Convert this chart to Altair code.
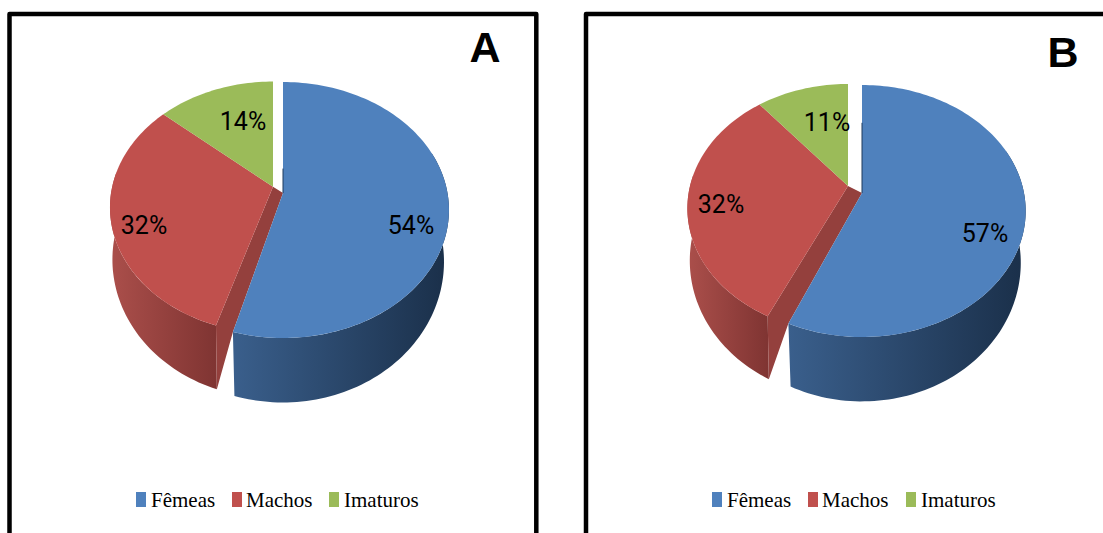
import math

import altair as alt
import pandas as pd

# Sex ratio shares per sample, in percent
categories = ["Fêmeas", "Machos", "Imaturos"]
shares_a = [54, 32, 14]
shares_b = [57, 32, 11]
panel_names = ["A", "B"]

TOP_COLORS = ["#4f81bd", "#c0504d", "#9bbb59"]
RADIAL_FACE = "#94403d"
EDGE_COLOR = "#1f3a5c"
BLUE_WALL = ("#3a5f8c", "#1a2f49")
RED_WALL = ("#ab4f4b", "#7f3432")

WIDTH, HEIGHT = 1103, 533
SERIF = "Liberation Serif"
LABEL_FONT = "Roboto"
BOLD = "Liberation Sans"

# Perspective disc settings for each panel: the first slice is pulled out to
# its own apex, the remaining slices share a second one.  "tw" nudges the
# projected angle to follow the camera tilt of the 3D view.
PANELS = [
    {
        "name": panel_names[0], "shares": shares_a,
        "front": dict(cx=283, cy=193, rx=164.5, ry=125.7, p=0.133, tw=1.0, kx=0.97),
        "rest": dict(cx=273, cy=186.7, rx=160.8, ry=122.5, p=0.165, tw=3.0, kx=0.985),
        "frame": (9.5, 536.3),
        "letter": (485, 49),
        "label_pos": [(411, 226), (144, 226), (243, 122)],
        "edge_reach": 0.22,
        "legend_box": [136, 232, 329],
        "legend_text": [151, 246, 344],
    },
    {
        "name": panel_names[1], "shares": shares_b,
        "front": dict(cx=862, cy=193, rx=162, ry=123.4, p=0.143, tw=-2.0, kx=0.97),
        "rest": dict(cx=848, cy=186, rx=158, ry=120.4, p=0.18, tw=0.0, kx=0.985),
        "frame": (586, 1113),
        "letter": (1063, 54),
        "label_pos": [(985, 234), (721, 205), (827, 123)],
        "edge_reach": 0.65,
        "legend_box": [712, 808, 906],
        "legend_text": [727, 822, 921],
    },
]

# Lower rim of the pie relative to the upper one
DROP, RY_LOW = 50, 1.10


def rim(g, angle, lower=False):
    """Project a clockwise angle (degrees from 12 o'clock) onto the disc rim."""
    t = math.radians(angle + g["tw"] * math.sin(math.radians(angle / 2)))
    u, v = math.sin(t), -math.cos(t)
    w = 1 - g["p"] * v
    kx, ky, dy = (g["kx"], RY_LOW, DROP) if lower else (1, 1, 0)
    return g["cx"] + kx * g["rx"] * u / w, g["cy"] + dy + ky * g["ry"] * v / w


def arc(g, start, end, lower=False):
    steps = max(2, int(abs(end - start) / 1.5))
    return [rim(g, start + (end - start) * i / steps, lower) for i in range(steps + 1)]


sx = alt.Scale(domain=[0, WIDTH], nice=False, zero=False)
sy = alt.Scale(domain=[HEIGHT, 0], nice=False, zero=False)


def shape(points, fill):
    rows = pd.DataFrame(
        [{"x": x, "y": y, "i": i} for i, (x, y) in enumerate(points)]
    )
    return (
        alt.Chart(rows)
        .mark_line(fill=fill, strokeWidth=0, interpolate="linear", clip=True)
        .encode(
            x=alt.X("x:Q", scale=sx, axis=None),
            y=alt.Y("y:Q", scale=sy, axis=None),
            order="i:Q",
        )
    )


def gradient(colors):
    return alt.LinearGradient(
        gradient="linear", x1=0, x2=1, y1=0, y2=0,
        stops=[alt.GradientStop(offset=0, color=colors[0]),
               alt.GradientStop(offset=1, color=colors[1])],
    )


def wall(g, start, end, colors):
    return shape(arc(g, start, end) + arc(g, end, start, lower=True), gradient(colors))


def stroke_path(points, color, width, join="miter"):
    rows = pd.DataFrame(
        [{"x": x, "y": y, "i": i} for i, (x, y) in enumerate(points)]
    )
    return (
        alt.Chart(rows)
        .mark_line(color=color, strokeWidth=width, strokeJoin=join, clip=True)
        .encode(
            x=alt.X("x:Q", scale=sx, axis=None),
            y=alt.Y("y:Q", scale=sy, axis=None),
            order="i:Q",
        )
    )


def pie(panel):
    front, rest = panel["front"], panel["rest"]
    a, b, c = panel["shares"]
    end_front = 3.6 * a
    end_mid = 3.6 * (a + b)
    apex_rest = (rest["cx"], rest["cy"])
    apex_front = (front["cx"], front["cy"])
    top_x, top_y = rim(front, 0)
    reach = panel["edge_reach"]
    edge_end = (top_x, apex_front[1] + (top_y - apex_front[1]) * reach)
    return [
        wall(rest, end_front, 275, RED_WALL),
        # Cut face of the second slice, seen through the gap
        shape([apex_rest, rim(rest, end_front), rim(rest, end_front, True),
               rim(front, end_front), apex_front], RADIAL_FACE),
        shape([apex_rest] + arc(rest, end_front, end_mid), TOP_COLORS[1]),
        shape([apex_rest] + arc(rest, end_mid, 360), TOP_COLORS[2]),
        wall(front, 70, end_front, BLUE_WALL),
        shape([apex_front] + arc(front, 0, end_front), TOP_COLORS[0]),
        stroke_path([apex_front, edge_end], EDGE_COLOR, 1),
    ]


def text_layer(rows, font, size, weight="normal", align="center"):
    return (
        alt.Chart(pd.DataFrame(rows))
        .mark_text(font=font, fontSize=size, fontWeight=weight, align=align,
                   baseline="middle", color="#000000")
        .encode(
            x=alt.X("x:Q", scale=sx, axis=None),
            y=alt.Y("y:Q", scale=sy, axis=None),
            text="t:N",
        )
    )


layers = []
for panel in PANELS:
    left, right = panel["frame"]
    layers.append(
        stroke_path([(left, HEIGHT + 20), (left, 14), (right, 14), (right, HEIGHT + 20)],
                    "#000000", 4.5, join="round")
    )
    layers += pie(panel)
    layers.append(
        text_layer(
            [{"x": x, "y": y, "t": f"{s}%"} for (x, y), s in zip(panel["label_pos"], panel["shares"])],
            LABEL_FONT, 25,
        )
    )
    layers.append(
        text_layer([{"x": panel["letter"][0], "y": panel["letter"][1], "t": panel["name"]}],
                   BOLD, 43, weight="bold")
    )
    boxes = pd.DataFrame(
        [{"x": x, "x2": x + 10, "y": 492, "y2": 507, "c": col}
         for x, col in zip(panel["legend_box"], TOP_COLORS)]
    )
    layers.append(
        alt.Chart(boxes)
        .mark_rect()
        .encode(
            x=alt.X("x:Q", scale=sx, axis=None),
            x2="x2:Q",
            y=alt.Y("y:Q", scale=sy, axis=None),
            y2="y2:Q",
            color=alt.Color("c:N", scale=None),
        )
    )
    layers.append(
        text_layer(
            [{"x": x, "y": 501, "t": name} for x, name in zip(panel["legend_text"], categories)],
            SERIF, 21, align="left",
        )
    )

chart = (
    alt.layer(*layers)
    .resolve_scale(x="shared", y="shared")
    .properties(width=WIDTH, height=HEIGHT, padding=0, background="#ffffff", autosize="none")
    .configure_view(stroke=None)
)

chart.save("out.html", embed_options={"renderer": "svg", "actions": False})
